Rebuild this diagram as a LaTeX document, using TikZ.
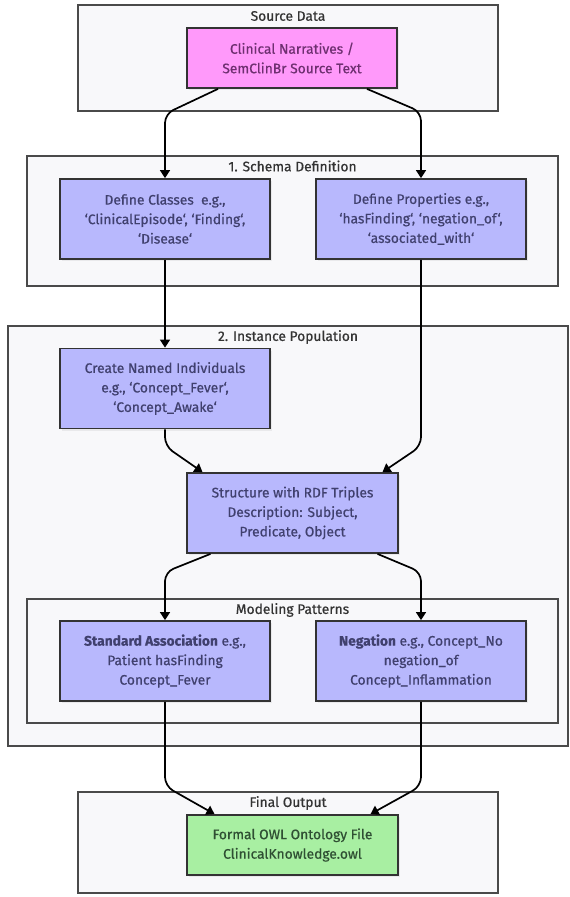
\documentclass[tikz,border=0pt]{standalone}
\usepackage{fontspec}
\setmainfont{Fira Sans}[FakeBold=0.6]
\usetikzlibrary{arrows.meta,calc,shadows}
\definecolor{clfill}{HTML}{F8F8FA}
\definecolor{clline}{HTML}{4A4A4A}
\definecolor{purp}{HTML}{B8B8FD}
\definecolor{purptext}{HTML}{40406E}
\definecolor{pink}{HTML}{FF99FA}
\definecolor{pinktext}{HTML}{6E2F70}
\definecolor{green}{HTML}{A8EFA2}
\definecolor{greentext}{HTML}{2F4F33}
\newcommand{\bq}{{\char"60}}
\begin{document}
\begin{tikzpicture}[x=1pt,y=-1pt,
  font=\fontsize{13.8}{19.5}\selectfont,
  cluster/.style={draw=clline,line width=1.3pt,fill=clfill},
  ctitle/.style={text=black!80,anchor=center},
  box/.style={draw=black!80,line width=1.8pt,minimum width=211pt,minimum height=80pt,align=center,inner sep=2pt,
    drop shadow={opacity=0.12,shadow xshift=2pt,shadow yshift=-2pt}},
  pbox/.style={box,fill=purp,text=purptext},
  edge/.style={draw=black,line width=1.7pt,rounded corners=9pt,-{Triangle[length=8pt,width=10pt]}}]
\useasboundingbox (0,0) rectangle (570,897);
\fill[white] (0,0) rectangle (570,897);
% clusters
\draw[cluster] (78,5) rectangle (498,111);
\node[ctitle] (t1) at (288,16) {Source Data};
\draw[cluster] (27,156) rectangle (558,286);
\node[ctitle] (t2) at (292.5,166) {1. Schema Definition};
\draw[cluster] (8,326) rectangle (568,746);
\node[ctitle] (t3) at (288,337) {2. Instance Population};
\draw[cluster] (27,599) rectangle (558,723);
\node[ctitle] (t4) at (292.5,610) {Modeling Patterns};
\draw[cluster] (78,792) rectangle (498,893);
\node[ctitle] (t5) at (288,803) {Final Output};
% nodes
\node[box,fill=pink,text=pinktext,minimum width=210pt,minimum height=60pt] (pink) at (292,58) {Clinical Narratives /\\SemClinBr Source Text};
\node[pbox,minimum width=210pt] (classes) at (165,219) {Define Classes\ \ e.g.,\\\bq ClinicalEpisode\bq, \bq Finding\bq,\\\bq Disease\bq};
\node[pbox,minimum width=210pt] (props) at (421,219) {Define Properties e.g.,\\\bq hasFinding\bq, \bq negation\_of\bq,\\\bq associated\_with\bq};
\node[pbox,minimum width=210pt] (create) at (165,388.5) {Create Named Individuals\\e.g., \bq Concept\_Fever\bq,\\\bq Concept\_Awake\bq};
\node[pbox] (struct) at (292.5,513) {Structure with RDF Triples\\Description: Subject,\\Predicate, Object};
\node[pbox,minimum width=210pt] (std) at (165,661) {\textbf{Standard Association} e.g.,\\Patient hasFinding\\Concept\_Fever};
\node[pbox,minimum width=210pt] (neg) at (421,661) {\textbf{Negation} e.g., Concept\_No\\negation\_of\\Concept\_Inflammation};
\node[box,fill=green,text=greentext,minimum height=60pt] (green) at (292.5,845) {Formal OWL Ontology File\\ClinicalKnowledge.owl};
% edges
\draw[edge] ([xshift=-74pt]pink.south) -- ([yshift=-25pt]pink.south -| classes.north) -- (classes.north);
\draw[edge] ([xshift=75pt]pink.south) -- ([yshift=-23pt]pink.south -| props.north) -- (props.north);
\draw[edge] (classes.south) -- (create.north);
\draw[edge] (props.south) -- ([yshift=26pt]struct.north -| props.south) -- ([xshift=90pt]struct.north);
\draw[edge] (create.south) -- ([yshift=26pt]struct.north -| create.south) -- ([xshift=-90pt]struct.north);
\draw[edge] ([xshift=-82pt]struct.south) -- ([yshift=48pt]std.north) -- (std.north);
\draw[edge] ([xshift=85pt]struct.south) -- ([yshift=48pt]neg.north) -- (neg.north);
\draw[edge] (std.south) -- ([yshift=28pt]green.north -| std.south) -- ([xshift=-78pt]green.north);
\draw[edge] (neg.south) -- ([yshift=28pt]green.north -| neg.south) -- ([xshift=78pt]green.north);
\end{tikzpicture}
\end{document}
